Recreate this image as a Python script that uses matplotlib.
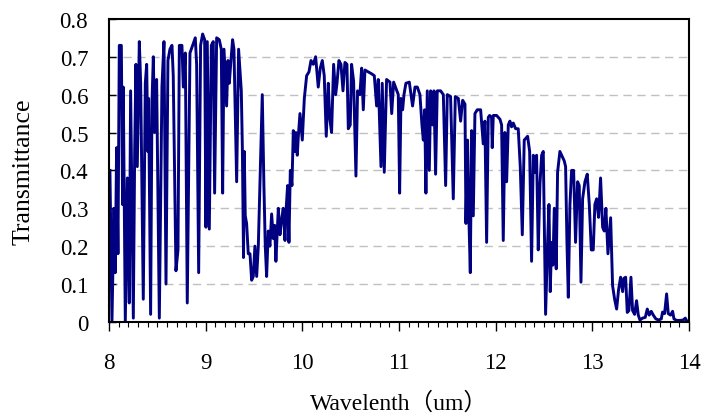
import numpy as np
import matplotlib.pyplot as plt
from matplotlib.ticker import MultipleLocator, FixedLocator

# wavelength (um) and transmittance
wl = [
    8.010, 8.031, 8.052, 8.065, 8.079, 8.093, 8.107, 8.128, 8.141, 8.148,
    8.169, 8.190, 8.210, 8.224, 8.252, 8.266, 8.279, 8.293, 8.314, 8.328,
    8.355, 8.376, 8.390, 8.403, 8.410, 8.431, 8.445, 8.459, 8.472, 8.493,
    8.521, 8.548, 8.569, 8.590, 8.610, 8.631, 8.652, 8.665, 8.693, 8.714,
    8.728, 8.755, 8.769, 8.790, 8.810, 8.838, 8.866, 8.893, 8.907, 8.928,
    8.948, 8.969, 8.990, 9.003, 9.017, 9.038, 9.059, 9.079, 9.093, 9.114,
    9.141, 9.162, 9.176, 9.190, 9.217, 9.231, 9.245, 9.259, 9.279, 9.293,
    9.321, 9.341, 9.369, 9.380, 9.392, 9.400, 9.410, 9.424, 9.441, 9.459,
    9.476, 9.493, 9.510, 9.528, 9.545, 9.562, 9.586, 9.603, 9.617, 9.631,
    9.648, 9.665, 9.683, 9.700, 9.714, 9.727, 9.752, 9.769, 9.786, 9.803,
    9.821, 9.831, 9.848, 9.862, 9.876, 9.893, 9.907, 9.924, 9.934, 9.948,
    9.959, 9.976, 10.000, 10.021, 10.045, 10.069, 10.090, 10.114, 10.138, 10.165,
    10.186, 10.207, 10.227, 10.248, 10.269, 10.283, 10.303, 10.324, 10.345, 10.359,
    10.379, 10.400, 10.421, 10.441, 10.462, 10.476, 10.496, 10.510, 10.531, 10.555,
    10.572, 10.596, 10.614, 10.631, 10.648, 10.683, 10.717, 10.745, 10.769, 10.786,
    10.814, 10.827, 10.848, 10.872, 10.907, 10.925, 10.945, 10.993, 11.007, 11.021,
    11.038, 11.052, 11.072, 11.107, 11.141, 11.166, 11.190, 11.217, 11.238, 11.252,
    11.266, 11.279, 11.293, 11.314, 11.328, 11.348, 11.362, 11.379, 11.396, 11.431,
    11.459, 11.483, 11.500, 11.534, 11.562, 11.583, 11.614, 11.638, 11.659, 11.683,
    11.693, 11.710, 11.724, 11.738, 11.752, 11.769, 11.786, 11.810, 11.845, 11.872,
    11.889, 11.907, 11.924, 11.938, 11.958, 11.965, 11.976, 12.010, 12.045, 12.062,
    12.079, 12.096, 12.114, 12.131, 12.148, 12.165, 12.183, 12.207, 12.234, 12.255,
    12.276, 12.296, 12.331, 12.352, 12.372, 12.390, 12.407, 12.424, 12.441, 12.459,
    12.476, 12.493, 12.517, 12.538, 12.552, 12.565, 12.579, 12.593, 12.607, 12.627,
    12.641, 12.665, 12.683, 12.710, 12.724, 12.738, 12.752, 12.769, 12.786, 12.807,
    12.827, 12.848, 12.865, 12.883, 12.900, 12.924, 12.948, 12.969, 12.990, 13.010,
    13.027, 13.045, 13.065, 13.086, 13.107, 13.124, 13.141, 13.162, 13.190, 13.210,
    13.231, 13.252, 13.272, 13.293, 13.314, 13.327, 13.345, 13.362, 13.379, 13.400,
    13.417, 13.438, 13.458, 13.476, 13.493, 13.520, 13.548, 13.569, 13.589, 13.610,
    13.631, 13.658, 13.686, 13.714, 13.727, 13.748, 13.769, 13.786, 13.810, 13.831,
    13.845, 13.872, 13.907, 13.941, 13.962, 13.983, 14.000,
]
trans = [
    0.40, 0.00, 0.30, 0.13, 0.46, 0.18, 0.73, 0.73, 0.31, 0.62,
    0.00, 0.38, 0.05, 0.61, 0.01, 0.45, 0.68, 0.41, 0.74, 0.63,
    0.06, 0.63, 0.68, 0.45, 0.59, 0.02, 0.58, 0.70, 0.50, 0.64,
    0.01, 0.62, 0.74, 0.10, 0.69, 0.72, 0.73, 0.65, 0.135, 0.19,
    0.73, 0.73, 0.62, 0.71, 0.05, 0.71, 0.73, 0.75, 0.68, 0.13,
    0.73, 0.76, 0.745, 0.25, 0.74, 0.245, 0.73, 0.74, 0.34, 0.75,
    0.745, 0.72, 0.34, 0.72, 0.57, 0.69, 0.63, 0.68, 0.745, 0.72,
    0.37, 0.72, 0.61, 0.46, 0.17, 0.45, 0.28, 0.26, 0.18, 0.18,
    0.11, 0.12, 0.20, 0.12, 0.20, 0.37, 0.60, 0.36, 0.20, 0.12,
    0.24, 0.20, 0.285, 0.22, 0.255, 0.16, 0.30, 0.23, 0.27, 0.30,
    0.215, 0.29, 0.36, 0.21, 0.40, 0.36, 0.505, 0.45, 0.50, 0.44,
    0.49, 0.55, 0.48, 0.59, 0.65, 0.66, 0.69, 0.68, 0.70, 0.62,
    0.67, 0.69, 0.65, 0.49, 0.63, 0.54, 0.50, 0.68, 0.60, 0.63,
    0.69, 0.68, 0.61, 0.685, 0.68, 0.51, 0.52, 0.68, 0.635, 0.385,
    0.61, 0.60, 0.67, 0.56, 0.665, 0.66, 0.655, 0.65, 0.57, 0.64,
    0.41, 0.63, 0.395, 0.64, 0.633, 0.55, 0.633, 0.60, 0.34, 0.59,
    0.56, 0.60, 0.63, 0.633, 0.57, 0.62, 0.62, 0.60, 0.52, 0.48,
    0.56, 0.34, 0.61, 0.40, 0.61, 0.52, 0.61, 0.39, 0.61, 0.61,
    0.60, 0.36, 0.60, 0.595, 0.325, 0.595, 0.59, 0.53, 0.585, 0.575,
    0.26, 0.48, 0.27, 0.13, 0.505, 0.28, 0.55, 0.56, 0.56, 0.47,
    0.53, 0.21, 0.54, 0.545, 0.54, 0.46, 0.545, 0.545, 0.535, 0.52,
    0.215, 0.50, 0.37, 0.52, 0.53, 0.515, 0.525, 0.51, 0.51, 0.41,
    0.23, 0.48, 0.49, 0.45, 0.16, 0.44, 0.395, 0.44, 0.19, 0.365,
    0.44, 0.45, 0.02, 0.21, 0.31, 0.08, 0.21, 0.15, 0.30, 0.14,
    0.395, 0.45, 0.44, 0.425, 0.41, 0.21, 0.065, 0.31, 0.40, 0.40,
    0.21, 0.37, 0.36, 0.105, 0.325, 0.37, 0.39, 0.31, 0.19, 0.19,
    0.31, 0.325, 0.276, 0.38, 0.25, 0.24, 0.30, 0.18, 0.275, 0.096,
    0.06, 0.034, 0.085, 0.118, 0.08, 0.115, 0.118, 0.025, 0.03, 0.118,
    0.03, 0.02, 0.056, 0.018, 0.005, 0.01, 0.012, 0.034, 0.018, 0.028,
    0.018, 0.008, 0.005, 0.008, 0.026, 0.022, 0.074, 0.022, 0.018, 0.028,
    0.008, 0.004, 0.004, 0.005, 0.01, 0.0, 0.003,
]

yticks = [0, 0.1, 0.2, 0.3, 0.4, 0.5, 0.6, 0.7, 0.8]
ytick_labels = ["0", "0.1", "0.2", "0.3", "0.4", "0.5", "0.6", "0.7", "0.8"]
xticks = [8, 9, 10, 11, 12, 13, 14]

plt.rcParams['font.family'] = ['Liberation Serif', 'Noto Sans CJK SC', 'DejaVu Sans']

fig = plt.figure(figsize=(7.03, 4.14), dpi=100)
ax = fig.add_axes([0.155, 0.22, 0.825, 0.732])

ax.plot(wl, trans, color='#000080', linewidth=2.1, solid_joinstyle='round')

ax.set_xlim(8, 14)
ax.set_ylim(0, 0.8)
ax.xaxis.set_major_locator(FixedLocator(xticks))
ax.xaxis.set_minor_locator(MultipleLocator(0.1))
ax.set_yticks(yticks)
ax.set_yticklabels(ytick_labels)

for y in yticks[1:-1]:
    ax.axhline(y, color='#c0c0c0', linewidth=1.0, dashes=(6, 4), zorder=0)

ax.tick_params(axis='x', which='major', direction='out', length=6.5, width=1.0,
               labelsize=16.5, pad=15.5)
ax.tick_params(axis='x', which='minor', direction='out', length=3.5, width=0.8)
ax.tick_params(axis='y', which='major', direction='in', length=5, width=1.0,
               labelsize=16.5, pad=15)

for s in ax.spines.values():
    s.set_linewidth(1.5)
    s.set_color('black')

ax.set_xlabel('Wavelenth（um）', fontsize=17, labelpad=13)
ax.set_ylabel('Transmittance', fontsize=18.5, labelpad=18)

fig.savefig('out.png', dpi=100)
